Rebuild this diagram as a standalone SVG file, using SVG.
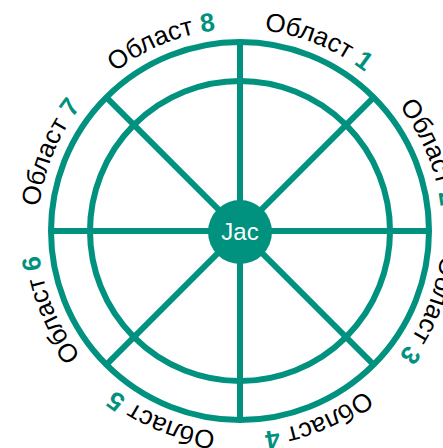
<svg xmlns="http://www.w3.org/2000/svg" width="443" height="448" viewBox="0 0 443 448">
<style>
.ring{fill:none;stroke:#00917f;stroke-width:6}
.spoke{stroke:#00917f;stroke-width:6;stroke-linecap:butt}
.lbl{font-family:"Liberation Sans",Arial,sans-serif;font-size:26px;fill:#000}
.num{font-weight:bold;fill:#00917f}
.hub{fill:#00917f}
.hubtxt{font-family:"Liberation Sans",Arial,sans-serif;font-size:24px;fill:#fff}
</style>
<defs>
<path id="tp" d="M 240,29 A 202,202 0 1,1 240,433 A 202,202 0 1,1 240,29"/>
</defs>
<g id="wheel">
<circle class="ring" cx="240" cy="231" r="189"/>
<circle class="ring" cx="240" cy="231" r="150"/>
</g>
<g id="connectors">
<line class="spoke" x1="240" y1="42" x2="240" y2="420"/>
<line class="spoke" x1="51" y1="231" x2="429" y2="231"/>
<line class="spoke" x1="106.4" y1="97.4" x2="373.6" y2="364.6"/>
<line class="spoke" x1="373.6" y1="97.4" x2="106.4" y2="364.6"/>
</g>
<g id="center">
<circle class="hub" cx="240" cy="232" r="32"/>
<text class="hubtxt" x="240" y="240" text-anchor="middle">Jac</text>
</g>
<g id="label1"><text class="lbl" text-anchor="middle"><textPath href="#tp" startOffset="6.25%">Област <tspan class="num">1</tspan></textPath></text></g>
<g id="label2"><text class="lbl" text-anchor="middle"><textPath href="#tp" startOffset="18.75%">Област <tspan class="num">2</tspan></textPath></text></g>
<g id="label3"><text class="lbl" text-anchor="middle"><textPath href="#tp" startOffset="31.25%">Област <tspan class="num">3</tspan></textPath></text></g>
<g id="label4"><text class="lbl" text-anchor="middle"><textPath href="#tp" startOffset="43.75%">Област <tspan class="num">4</tspan></textPath></text></g>
<g id="label5"><text class="lbl" text-anchor="middle"><textPath href="#tp" startOffset="56.25%">Област <tspan class="num">5</tspan></textPath></text></g>
<g id="label6"><text class="lbl" text-anchor="middle"><textPath href="#tp" startOffset="68.75%">Област <tspan class="num">6</tspan></textPath></text></g>
<g id="label7"><text class="lbl" text-anchor="middle"><textPath href="#tp" startOffset="81.25%">Област <tspan class="num">7</tspan></textPath></text></g>
<g id="label8"><text class="lbl" text-anchor="middle"><textPath href="#tp" startOffset="93.75%">Област <tspan class="num">8</tspan></textPath></text></g>
</svg>
